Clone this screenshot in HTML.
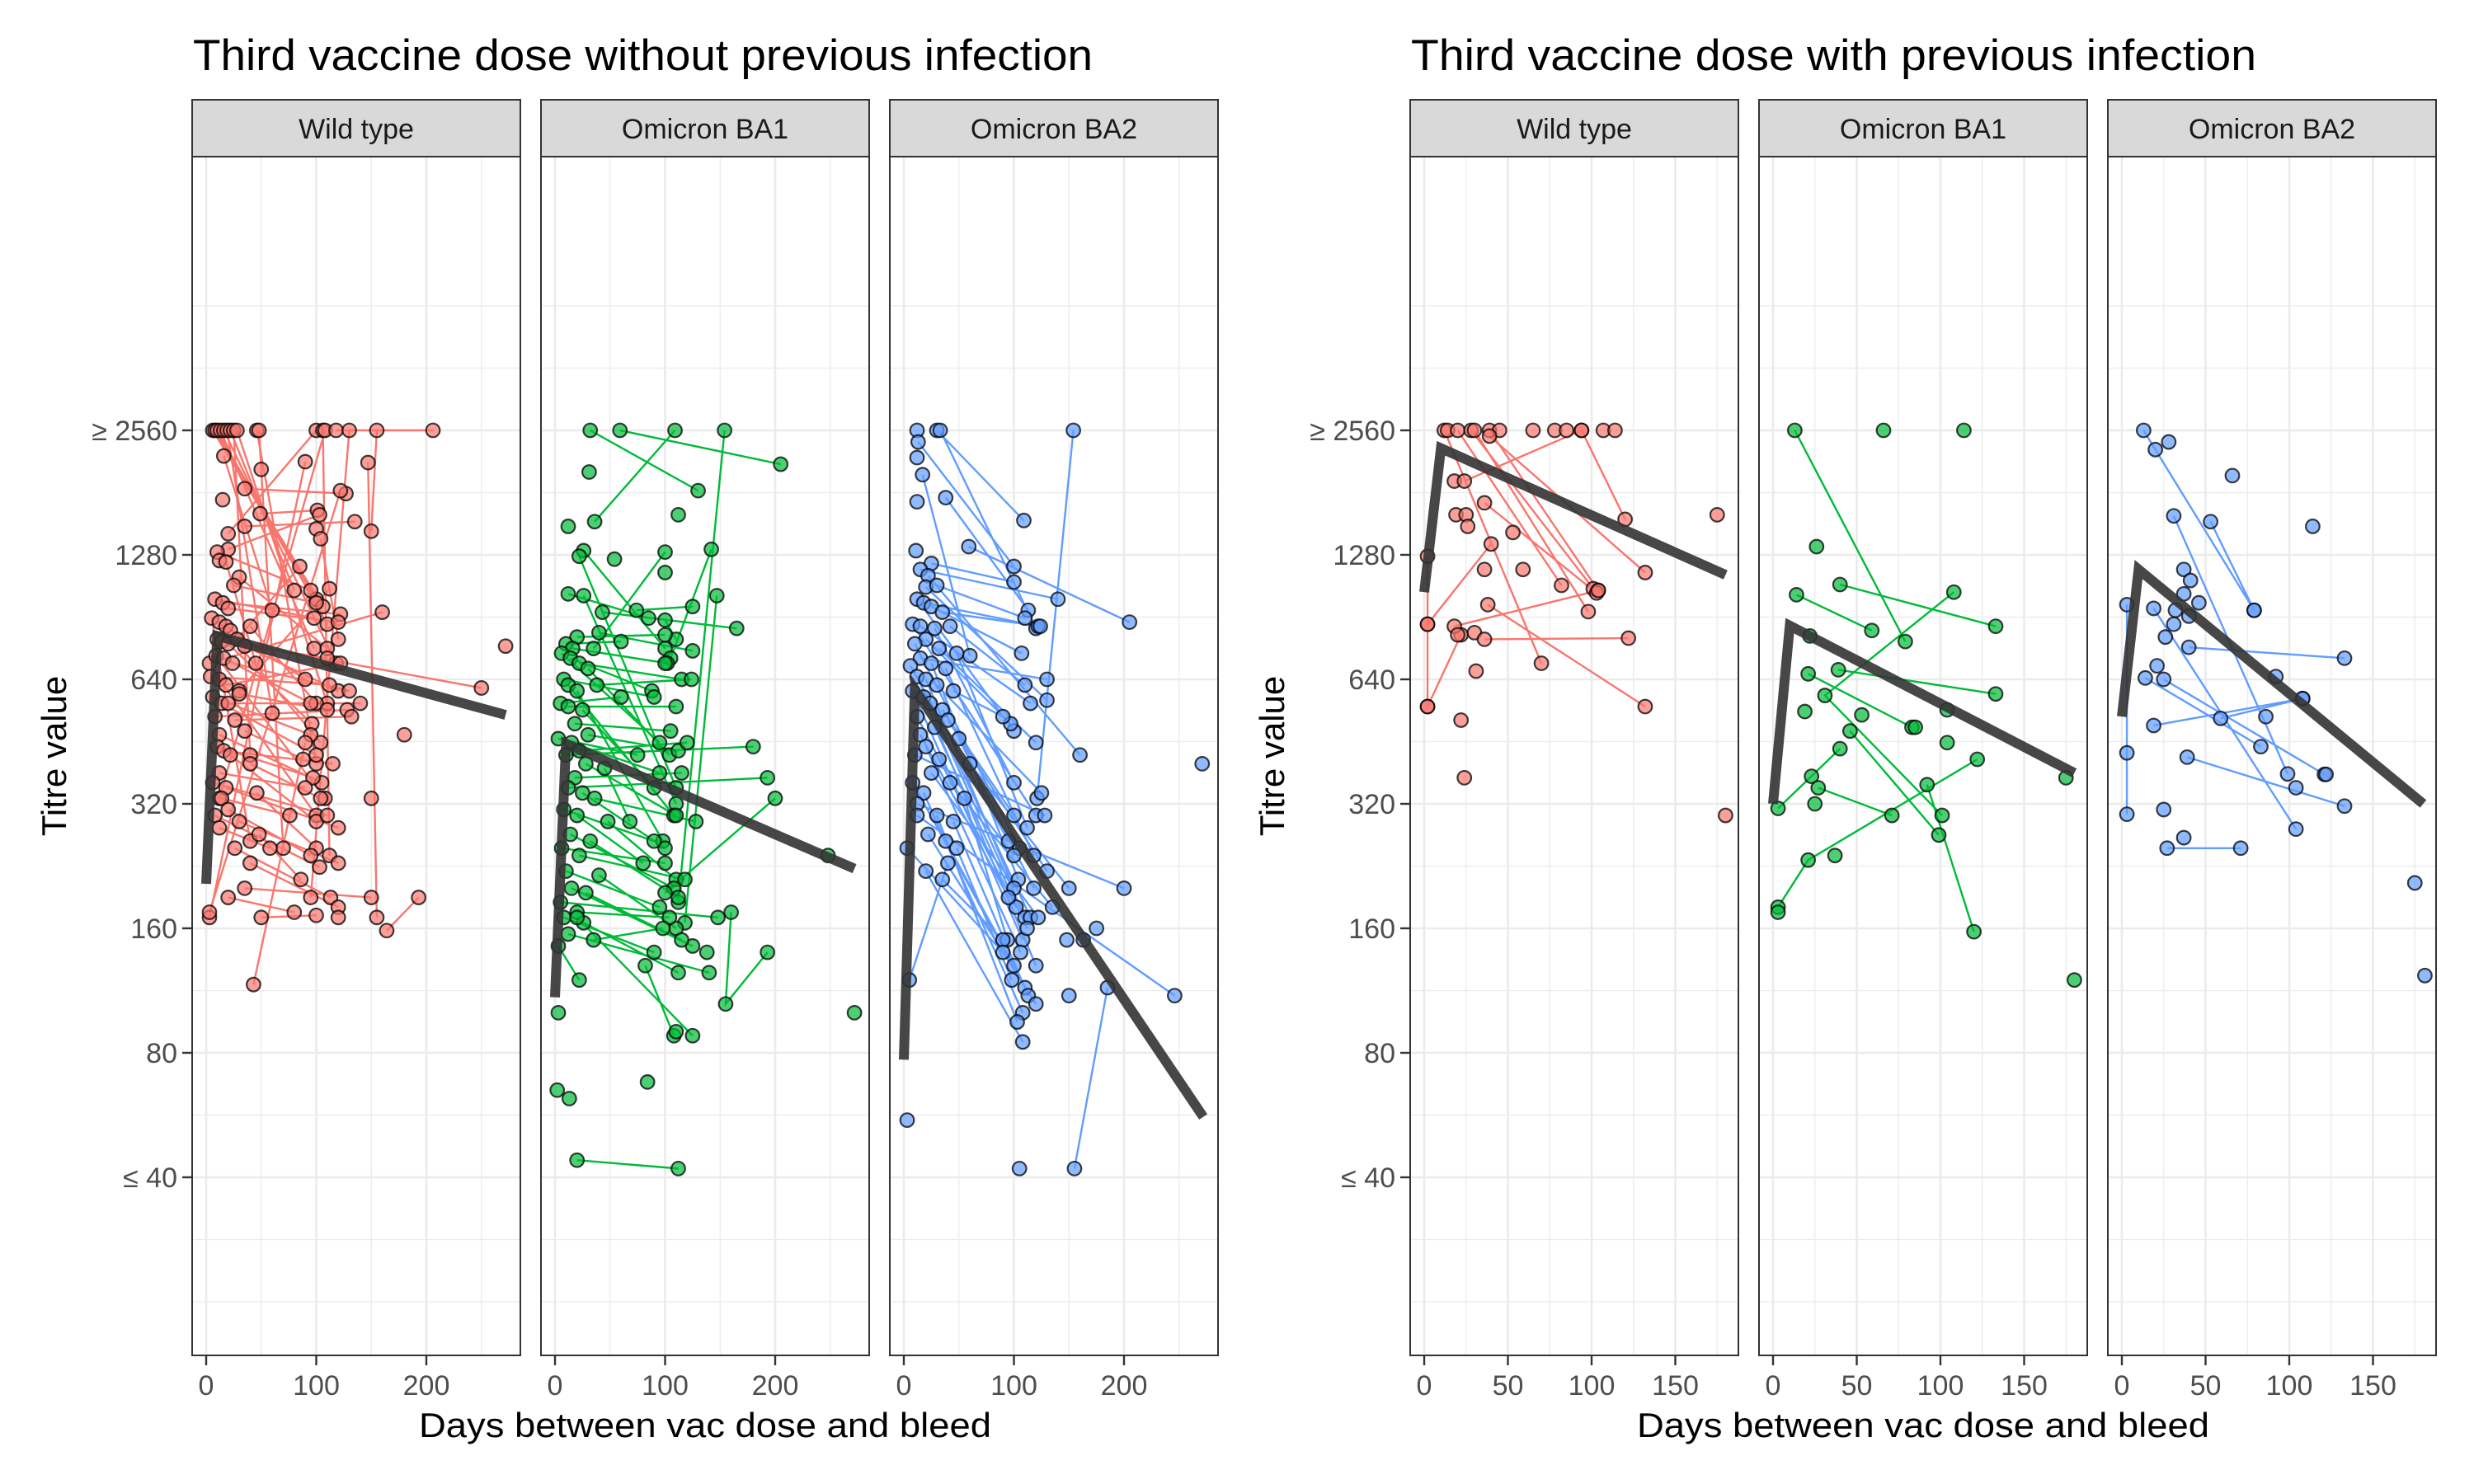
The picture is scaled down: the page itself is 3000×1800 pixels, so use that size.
<!DOCTYPE html>
<html><head><meta charset="utf-8"><style>
html,body{margin:0;padding:0;background:#fff;}
svg{display:block;font-family:"Liberation Sans",Arial,sans-serif;}
</style></head><body>
<svg id="chart" width="3000" height="1800" viewBox="0 0 3000 1800" xmlns="http://www.w3.org/2000/svg">
<rect width="3000" height="1800" fill="#fff"/>
<text x="234" y="85" font-size="53" fill="#000" textLength="1091" lengthAdjust="spacingAndGlyphs">Third vaccine dose without previous infection</text>
<text x="1711" y="85" font-size="53" fill="#000" textLength="1025" lengthAdjust="spacingAndGlyphs">Third vaccine dose with previous infection</text>
<text x="855" y="1743" font-size="42" text-anchor="middle" textLength="694" lengthAdjust="spacingAndGlyphs">Days between vac dose and bleed</text>
<text x="2332" y="1743" font-size="42" text-anchor="middle" textLength="694" lengthAdjust="spacingAndGlyphs">Days between vac dose and bleed</text>
<text x="0" y="0" font-size="42" text-anchor="middle" transform="translate(80,917) rotate(-90)">Titre value</text>
<text x="0" y="0" font-size="42" text-anchor="middle" transform="translate(1557,917) rotate(-90)">Titre value</text>
<g id="plots"></g>
</svg>
<script>
// ---- data ----
const yTickValues = [2560,1280,640,320,160,80,40];
const yTickLabels = ["\u2265 2560","1280","640","320","160","80","\u2264 40"];
const xTicksLeft = [0,100,200];
const xTicksRight = [0,50,100,150];
const panelNames = ["Wild type","Omicron BA1","Omicron BA2"];

const fitDaysLeft = [0,10,272];
const fitWtLeft = [205,815,525];
const fitBa1Left = [109,447,223];
const fitBa2Left = [77,605,56];
const fitDaysRight = [0,10,180];
const fitWtRight = [1040,2317,1145];
const fitBa1Right = [320,863,380];
const fitBa2Right = [520,1180,320];

const wtLeft = [
[[6,2560],[100,1000]],[[8,2560],[106,960]],[[10,2560],[110,870]],[[13,2560],[98,760]],
[[16,2560],[118,700]],[[19,2560],[60,530]],[[22,2560],[80,1050]],[[25,2560],[40,420]],
[[28,2560],[110,560]],[[46,2560],[100,400]],[[48,2560],[70,250]],[[100,2560],[20,1440]],
[[106,2560],[112,240]],[[108,2560],[12,330]],[[118,2560],[206,2560]],[[130,2560],[95,190]],
[[155,2560],[150,1460]],[[16,2220],[60,940]],[[50,2060]],[[90,2150],[3,170]],
[[35,1850],[127,1800]],[[15,1740]],[[122,1830],[3,175]],[[147,2140],[155,170]],[[164,158],[193,190]],
[[49,1610],[101,1640]],[[35,1500],[135,1540]],[[103,1600],[20,1320]],[[100,1480]],[[104,1400],[120,800]],
[[10,1300],[95,1050]],[[12,1240]],[[18,1230],[45,700]],[[30,1130],[110,760]],[[25,1080],[100,980]],
[[112,1060],[30,600]],[[8,1000],[98,900]],[[15,980],[122,920]],[[20,950],[120,880]],[[5,900],[40,260]],
[[12,880],[104,450]],[[18,860],[90,640]],[[3,700],[160,930]],[[22,840]],[[40,860],[100,560]],
[[10,800],[250,610]],[[14,790],[110,720]],[[20,780],[96,500]],[[28,800],[85,1200]],[[35,770],[120,600]],
[[9,730],[108,330]],[[16,720],[95,560]],[[24,700],[130,600]],[[4,650],[112,620]],[[12,640],[100,300]],
[[18,620],[122,700]],[[30,590],[110,540]],[[6,580],[95,470]],[[14,560],[100,420]],[[20,560],[140,560]],
[[8,520],[128,540]],[[26,510],[132,520]],[[35,480],[88,410]],[[12,470],[105,360]],[[10,440],[97,370]],
[[16,430],[115,400]],[[22,420],[100,290]],[[40,400],[104,330]],[[12,380],[90,350]],[[6,360],[110,300]],
[[18,350],[120,280]],[[46,340],[100,250]],[[14,330],[76,300]],[[20,310],[95,240]],[[8,300],[103,225]],
[[30,290],[120,230]],[[12,280],[58,250]],[[48,270],[86,210]],[[26,250],[113,190]],[[40,230],[120,180]],
[[35,200],[150,190]],[[20,190],[80,175]],[[50,170],[100,172]],[[120,170]],[[150,330]],[[180,470]],
[[272,770]],[[43,117],[90,450]]
];
const ba1Left = [
[[32,2560],[130,1830]],[[59,2560],[205,2120]],[[109,2560],[36,1540]],[[154,2560],[112,185]],
[[31,2030]],[[112,1600]],[[12,1500]],[[26,1310],[100,760]],[[22,1270],[110,350]],[[142,1320],[105,720]],
[[147,1020],[118,165]],[[54,1250]],[[100,1160]],[[100,1300],[35,760]],[[12,1030],[85,900]],
[[26,1020],[110,320]],[[43,930],[165,850]],[[74,940],[125,960]],[[100,890],[110,800]],
[[20,810],[100,820]],[[40,830],[125,750]],[[10,780],[60,790]],[[16,760],[102,700]],[[6,740],[95,450]],
[[14,720],[88,600]],[[22,700],[115,640]],[[30,680],[104,420]],[[8,640],[90,580]],[[12,620],[108,300]],
[[20,600],[98,260]],[[38,620],[124,640]],[[5,560],[60,580]],[[12,550],[110,550]],[[25,540],[90,350]],
[[18,500],[105,480]],[[30,470],[112,430]],[[3,460],[75,420]],[[15,450],[95,380]],[[22,430],[120,450]],
[[10,420],[180,440]],[[28,400],[110,300]],[[45,390],[68,290]],[[18,370],[115,380]],[[12,350],[193,370]],
[[25,340],[100,250]],[[36,330],[128,290]],[[8,310],[90,260]],[[20,300],[80,230]],[[48,290],[110,210]],
[[14,270],[108,200]],[[32,260],[112,190]],[[6,250],[100,230]],[[22,240],[118,210]],[[10,220],[95,180]],
[[40,215],[110,160]],[[15,200],[125,145]],[[28,195],[115,150]],[[5,185],[148,170]],[[20,175],[104,170]],
[[8,170],[90,140]],[[26,165],[112,125]],[[12,155],[140,125]],[[35,150],[98,160]],[[3,145],[22,120]],
[[160,175],[155,105],[193,140]],[[82,130],[108,88]],[[110,90]],[[125,88],[20,170]],[[138,140]],
[[272,100]],[[248,240]],[[200,330],[100,195]],[[3,100]],[[2,65]],[[13,62]],[[84,68]],[[20,44],[112,42]],[[100,700]]
];
const ba2Left = [
[[12,2560]],[[30,2560],[109,1550]],[[33,2560],[120,850]],[[13,2400],[100,1200]],[[12,2200]],
[[17,2000],[60,730]],[[12,1720]],[[38,1760],[113,940]],[[59,1340],[205,880]],[[11,1310]],
[[154,2560],[121,330]],[[25,1220],[100,1100]],[[15,1180],[140,1000]],[[22,1140],[160,420]],
[[20,1070],[130,570]],[[30,1080],[110,900]],[[12,1000],[100,480]],[[18,980],[122,860]],
[[25,960],[107,740]],[[35,930],[124,860]],[[8,870],[120,300]],[[15,860],[115,560]],[[28,850],[100,360]],
[[42,860],[110,620]],[[20,800],[97,500]],[[10,780],[105,250]],[[32,760],[120,450]],[[48,740],[112,280]],
[[15,720],[130,640]],[[25,700],[104,210]],[[6,690],[95,260]],[[38,680],[118,240]],[[12,650],[110,170]],
[[20,640],[100,200]],[[30,620],[125,340]],[[8,600],[108,150]],[[45,600],[90,520]],[[18,580],[120,130]],
[[24,560],[115,170]],[[35,540],[100,300]],[[12,520],[102,180]],[[40,510],[130,220]],[[28,490],[112,160]],
[[15,470],[95,190]],[[50,460],[118,200]],[[20,440],[106,140]],[[10,420],[128,300]],[[32,410],[100,240]],
[[60,400],[150,200]],[[25,380],[122,170]],[[8,360],[110,115]],[[42,360],[135,180]],[[18,340],[108,100]],
[[55,330],[94,150]],[[12,320],[200,200]],[[30,300],[103,95]],[[45,290],[113,110]],[[22,270],[120,105]],
[[38,260],[100,130]],[[48,250],[98,120]],[[20,220],[108,85]],[[35,210],[90,150]],[[3,250],[90,140]],
[[5,120],[40,230]],[[150,110]],[[163,150]],[[148,150]],[[185,115],[155,42]],[[105,42]],[[3,55]],
[[246,110],[12,300]],[[271,400]],[[175,160]]
];
const wtRight = [
[[12,2560],[70,700]],[[14,2560]],[[20,2560],[82,1080]],[[28,2560],[101,1060]],[[30,2560],[98,933]],
[[39,2560],[104,1050]],[[45,2560]],[[65,2560]],[[78,2560]],[[85,2560]],[[94,2560],[120,1560]],[[107,2560]],
[[114,2560]],[[39,2480],[132,1160]],[[18,1930]],[[24,1930],[94,2560]],[[36,1710],[103,1035]],
[[19,1600]],[[25,1600]],[[26,1500]],[[53,1450]],[[175,1600]],[[2,1270],[2,870],[2,550]],
[[2,870],[40,1360]],[[2,550],[22,820]],[[36,1180]],[[59,1180]],[[18,860],[104,1050]],[[20,820]],
[[30,830]],[[36,800],[122,805]],[[38,970],[132,550]],[[31,670]],[[22,510]],[[24,370]],[[180,300]]
];
const ba1Right = [
[[13,2560],[79,790]],[[66,2560]],[[114,2560]],[[26,1340]],[[14,1025],[59,840]],[[40,1085],[133,860]],
[[108,1040],[31,585],[101,300]],[[22,815]],[[21,660],[83,490]],[[85,490]],[[39,675],[133,590]],
[[19,535]],[[53,525]],[[46,480],[99,269]],[[104,540]],[[104,450]],[[40,435],[3,312]],
[[122,410],[21,234],[3,180]],[[3,175]],[[175,370]],[[23,373]],[[27,350],[71,300]],[[25,320]],
[[92,356],[120,157]],[[37,240]],[[180,120]]
];
const ba2Right = [
[[13,2560],[20,2300],[79,940]],[[28,2400]],[[66,1990]],[[31,1590],[99,378]],[[53,1540],[79,940]],
[[114,1500]],[[37,1180]],[[41,1110]],[[37,1030]],[[46,980]],[[3,970],[3,425],[3,302]],
[[19,950],[104,278]],[[32,940]],[[40,910]],[[31,870]],[[26,810]],[[40,765],[133,720]],[[21,690]],
[[14,645],[83,440]],[[25,640],[121,377]],[[92,650]],[[108,575],[19,495]],[[108,575],[59,515]],
[[86,520]],[[39,415],[133,316]],[[122,377]],[[104,350]],[[25,310]],[[37,265]],[[27,250],[71,250]],
[[175,206]],[[181,123]]
];

// ---- layout ----
const NS = "http://www.w3.org/2000/svg";
const root = document.getElementById("plots");
const PW = 398, TOP = 190, BOT = 1644, STRIP_TOP = 121;
const colors = ["#F8766D","#00BA38","#619CFF"];
function yScale(v){ return 522 + Math.log2(2560 / v) * 151; }
function mk(tag, attrs, parent){ const e = document.createElementNS(NS, tag); for (const k in attrs) e.setAttribute(k, attrs[k]); parent.appendChild(e); return e; }

const panels = [
 {x0:233, ppd:1.335, subj:wtLeft, fitD:fitDaysLeft, fitV:fitWtLeft, ticks:xTicksLeft, minor:[50,150,250], c:0, side:"left"},
 {x0:656, ppd:1.335, subj:ba1Left, fitD:fitDaysLeft, fitV:fitBa1Left, ticks:xTicksLeft, minor:[50,150,250], c:1, side:"left"},
 {x0:1079, ppd:1.335, subj:ba2Left, fitD:fitDaysLeft, fitV:fitBa2Left, ticks:xTicksLeft, minor:[50,150,250], c:2, side:"left"},
 {x0:1710, ppd:2.03, subj:wtRight, fitD:fitDaysRight, fitV:fitWtRight, ticks:xTicksRight, minor:[25,75,125,175], c:0, side:"right"},
 {x0:2133, ppd:2.03, subj:ba1Right, fitD:fitDaysRight, fitV:fitBa1Right, ticks:xTicksRight, minor:[25,75,125,175], c:1, side:"right"},
 {x0:2556, ppd:2.03, subj:ba2Right, fitD:fitDaysRight, fitV:fitBa2Right, ticks:xTicksRight, minor:[25,75,125,175], c:2, side:"right"}
];

panels.forEach((p, i) => {
  const xS = d => p.x0 + 17 + d * p.ppd;
  const g = mk("g", {}, root);
  
  
  mk("rect", {x:p.x0, y:TOP, width:PW, height:BOT-TOP, fill:"#fff"}, g);
  const minorY = [371, 446.5];
  for (let k = 0; k < 6; k++) minorY.push(522 + 75.5 + k*151);
  minorY.push(1503.5, 1579);
  minorY.forEach(y => mk("line", {x1:p.x0, x2:p.x0+PW, y1:y, y2:y, stroke:"#ebebeb", "stroke-width":1.3}, g));
  p.minor.forEach(d => mk("line", {x1:xS(d), x2:xS(d), y1:TOP, y2:BOT, stroke:"#ebebeb", "stroke-width":1.3}, g));
  yTickValues.forEach(v => mk("line", {x1:p.x0, x2:p.x0+PW, y1:yScale(v), y2:yScale(v), stroke:"#ebebeb", "stroke-width":2.6}, g));
  p.ticks.forEach(d => mk("line", {x1:xS(d), x2:xS(d), y1:TOP, y2:BOT, stroke:"#ebebeb", "stroke-width":2.6}, g));
  p.subj.forEach(s => {
    if (s.length > 1) {
      const pl = mk("polyline", {points: s.map(q => xS(q[0]) + "," + yScale(q[1])).join(" "), fill:"none", stroke:colors[p.c], "stroke-width":2.4}, g);
      
      
    }
  });
  p.subj.forEach(s => s.forEach(q => {
    const c = mk("circle", {cx:xS(q[0]), cy:yScale(q[1]), r:8.3, fill:colors[p.c], "fill-opacity":0.7, stroke:"#000", "stroke-opacity":0.75, "stroke-width":2.2}, g);
    
    
  }));
  const fl = mk("polyline", {points: p.fitD.map((d, k) => xS(d) + "," + yScale(p.fitV[k])).join(" "), fill:"none", stroke:"#333", "stroke-opacity":0.9, "stroke-width":12, "stroke-linejoin":"miter"}, g);
  
  
  mk("rect", {x:p.x0, y:TOP, width:PW, height:BOT-TOP, fill:"none", stroke:"#333", "stroke-width":2}, g);
  const st = mk("rect", {x:p.x0, y:STRIP_TOP, width:PW, height:TOP-STRIP_TOP, fill:"#d9d9d9", stroke:"#333", "stroke-width":2}, g);
  
  
  const tx = mk("text", {x:p.x0 + PW/2, y:168, "font-size":34, "text-anchor":"middle", fill:"#1a1a1a"}, g);
  tx.textContent = panelNames[p.c];
  
  
  p.ticks.forEach(d => {
    mk("line", {x1:xS(d), x2:xS(d), y1:BOT, y2:BOT+12, stroke:"#333", "stroke-width":2.4}, g);
    const t = mk("text", {x:xS(d), y:1692, "font-size":34, "text-anchor":"middle", fill:"#4d4d4d"}, g);
    t.textContent = d;
    
    
  });
  if (i === 0 || i === 3) {
    yTickValues.forEach((v, k) => {
      mk("line", {x1:p.x0-12, x2:p.x0, y1:yScale(v), y2:yScale(v), stroke:"#333", "stroke-width":2.4}, g);
      const t = mk("text", {x:p.x0-18, y:yScale(v)+12, "font-size":34, "text-anchor":"end", fill:"#4d4d4d"}, g);
      t.textContent = yTickLabels[k];
      
      
    });
  }
});
</script>
</body></html>
